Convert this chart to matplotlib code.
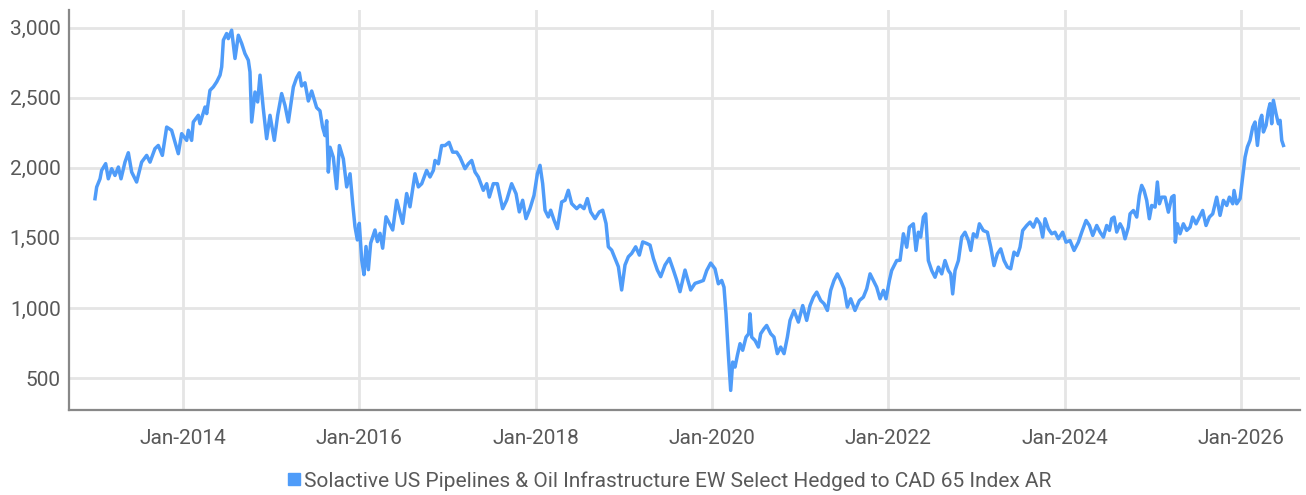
import matplotlib
matplotlib.use("Agg")
import matplotlib.pyplot as plt
from matplotlib.lines import Line2D

# dates as fractional years, index level
t = [2013.002, 2013.021, 2013.059, 2013.077, 2013.123, 2013.153, 2013.191, 2013.229, 2013.267, 2013.297,
     2013.342, 2013.380, 2013.418, 2013.474, 2013.531, 2013.588, 2013.626, 2013.682, 2013.720, 2013.766,
     2013.815, 2013.871, 2013.947, 2013.985, 2014.042, 2014.061, 2014.098, 2014.117, 2014.174, 2014.193,
     2014.250, 2014.269, 2014.306, 2014.344, 2014.382, 2014.420, 2014.439, 2014.458, 2014.495, 2014.514,
     2014.552, 2014.590, 2014.628, 2014.666, 2014.703, 2014.741, 2014.760, 2014.779, 2014.817, 2014.847,
     2014.874, 2014.911, 2014.949, 2014.987, 2015.036, 2015.074, 2015.119, 2015.157, 2015.195, 2015.252,
     2015.289, 2015.320, 2015.346, 2015.384, 2015.422, 2015.460, 2015.516, 2015.554, 2015.584, 2015.611,
     2015.630, 2015.649, 2015.668, 2015.705, 2015.743, 2015.774, 2015.819, 2015.857, 2015.895, 2015.925,
     2015.951, 2015.978, 2016.000, 2016.027, 2016.053, 2016.076, 2016.103, 2016.129, 2016.178, 2016.205,
     2016.235, 2016.265, 2016.303, 2016.341, 2016.379, 2016.424, 2016.462, 2016.492, 2016.537, 2016.575,
     2016.632, 2016.670, 2016.708, 2016.764, 2016.802, 2016.840, 2016.859, 2016.897, 2016.934, 2016.972,
     2017.018, 2017.059, 2017.105, 2017.142, 2017.199, 2017.237, 2017.275, 2017.313, 2017.350,
     2017.407, 2017.445, 2017.475, 2017.520, 2017.566, 2017.626, 2017.672, 2017.728, 2017.778, 2017.815,
     2017.853, 2017.891, 2017.936, 2017.982, 2018.020, 2018.050, 2018.080, 2018.107, 2018.144, 2018.171,
     2018.209, 2018.247, 2018.296, 2018.334, 2018.371, 2018.409, 2018.466, 2018.504, 2018.549, 2018.587,
     2018.625, 2018.674, 2018.723, 2018.761, 2018.799, 2018.825, 2018.863, 2018.901, 2018.939, 2018.976,
     2019.014, 2019.052, 2019.090, 2019.135, 2019.177, 2019.215, 2019.260, 2019.298, 2019.336, 2019.381,
     2019.419, 2019.468, 2019.517, 2019.563, 2019.600, 2019.638, 2019.695, 2019.721, 2019.759, 2019.808,
     2019.865, 2019.903, 2019.941, 2019.986, 2020.035, 2020.073, 2020.111, 2020.137, 2020.160, 2020.186,
     2020.213, 2020.236, 2020.262, 2020.289, 2020.319, 2020.349, 2020.387, 2020.417, 2020.432, 2020.451,
     2020.489, 2020.527, 2020.553, 2020.591, 2020.621, 2020.667, 2020.704, 2020.742, 2020.780, 2020.818,
     2020.856, 2020.886, 2020.931, 2020.981, 2021.030, 2021.075, 2021.113, 2021.151, 2021.189, 2021.234,
     2021.272, 2021.310, 2021.347, 2021.385, 2021.423, 2021.461, 2021.499, 2021.536, 2021.574, 2021.623,
     2021.673, 2021.718, 2021.756, 2021.794, 2021.831, 2021.869, 2021.907, 2021.945, 2021.975, 2022.013,
     2022.039, 2022.096, 2022.134, 2022.172, 2022.210, 2022.240, 2022.285, 2022.315, 2022.342, 2022.368,
     2022.399, 2022.425, 2022.455, 2022.493, 2022.531, 2022.569, 2022.607, 2022.644, 2022.682, 2022.709,
     2022.731, 2022.758, 2022.796, 2022.833, 2022.871, 2022.909, 2022.936, 2022.966, 2023.004, 2023.034,
     2023.079, 2023.125, 2023.163, 2023.200, 2023.238, 2023.276, 2023.314, 2023.352, 2023.389, 2023.427,
     2023.465, 2023.495, 2023.525, 2023.571, 2023.609, 2023.647, 2023.684, 2023.722, 2023.752, 2023.779,
     2023.817, 2023.855, 2023.892, 2023.930, 2023.979, 2024.017, 2024.062, 2024.108, 2024.157, 2024.195,
     2024.244, 2024.282, 2024.320, 2024.365, 2024.403, 2024.441, 2024.478, 2024.509, 2024.535, 2024.562,
     2024.592, 2024.630, 2024.660, 2024.686, 2024.724, 2024.743, 2024.781, 2024.819, 2024.849, 2024.875,
     2024.902, 2024.932, 2024.962, 2024.989, 2025.027, 2025.053, 2025.076, 2025.102, 2025.140, 2025.178,
     2025.216, 2025.242, 2025.257, 2025.280, 2025.310, 2025.348, 2025.386, 2025.424, 2025.454, 2025.492,
     2025.530, 2025.567, 2025.605, 2025.643, 2025.681, 2025.726, 2025.764, 2025.802, 2025.840, 2025.870,
     2025.908, 2025.923, 2025.953, 2025.991, 2026.021, 2026.048, 2026.074, 2026.104, 2026.135, 2026.161,
     2026.188, 2026.218, 2026.237, 2026.256, 2026.286, 2026.312, 2026.331, 2026.350, 2026.369, 2026.399,
     2026.426, 2026.445, 2026.464, 2026.483]

level = [1779, 1862, 1921, 1981, 2029, 1921, 1993, 1945, 2005, 1921,
         2040, 2107, 1969, 1898, 2040, 2088, 2040, 2136, 2159, 2088,
         2290, 2267, 2100, 2243, 2195, 2267, 2195, 2326, 2374, 2314,
         2433, 2386, 2552, 2576, 2612, 2660, 2719, 2910, 2957, 2921,
         2981, 2779, 2945, 2886, 2814, 2767, 2683, 2326, 2540, 2469,
         2660, 2421, 2207, 2374, 2195, 2374, 2529, 2445, 2326, 2576,
         2642, 2677, 2583, 2606, 2476, 2547, 2429, 2406, 2288, 2229,
         2335, 1969, 2146, 2075, 1851, 2158, 2063, 1863, 1957, 1745,
         1580, 1485, 1603, 1344, 1237, 1438, 1273, 1462, 1556, 1473,
         1532, 1426, 1650, 1603, 1556, 1768, 1674, 1603, 1816, 1721,
         1957, 1863, 1886, 1981, 1934, 1981, 2052, 2028, 2158, 2158,
         2181, 2111, 2111, 2075, 1993, 2028, 2052, 1969, 1934,
         1839, 1886, 1791, 1886, 1886, 1708, 1768, 1886, 1815, 1685,
         1768, 1637, 1708, 1803, 1957, 2017, 1886, 1697, 1649, 1697,
         1626, 1566, 1756, 1768, 1839, 1744, 1708, 1732, 1708, 1780,
         1685, 1637, 1685, 1697, 1602, 1436, 1412, 1353, 1294, 1128,
         1306, 1365, 1389, 1436, 1377, 1471, 1460, 1448, 1353, 1270,
         1223, 1306, 1353, 1270, 1199, 1116, 1270, 1211, 1128, 1175,
         1187, 1196, 1267, 1320, 1279, 1172, 1196, 1148, 958, 674,
         412, 614, 578, 662, 745, 698, 792, 816, 958, 792,
         768, 721, 816, 852, 875, 816, 792, 674, 721, 674,
         792, 911, 982, 899, 1017, 911, 1017, 1077, 1113, 1053,
         1030, 982, 1125, 1196, 1243, 1196, 1137, 1006, 1065, 982,
         1053, 1077, 1137, 1243, 1196, 1148, 1065, 1125, 1065, 1196,
         1267, 1338, 1340, 1529, 1433, 1576, 1600, 1410, 1540, 1505,
         1648, 1671, 1338, 1267, 1219, 1291, 1243, 1338, 1267, 1243,
         1100, 1267, 1338, 1505, 1540, 1481, 1410, 1529, 1505, 1600,
         1552, 1540, 1433, 1302, 1386, 1421, 1338, 1291, 1279, 1398,
         1374, 1433, 1552, 1588, 1612, 1576, 1636, 1600, 1505, 1636,
         1564, 1529, 1540, 1493, 1540, 1469, 1481, 1410, 1469, 1540,
         1624, 1588, 1517, 1588, 1541, 1505, 1588, 1553, 1636, 1648,
         1541, 1600, 1564, 1493, 1576, 1671, 1695, 1648, 1802, 1874,
         1838, 1767, 1636, 1731, 1719, 1898, 1743, 1790, 1790, 1683,
         1790, 1802, 1469, 1600, 1529, 1600, 1553, 1576, 1648, 1600,
         1648, 1695, 1588, 1648, 1671, 1790, 1660, 1767, 1731, 1790,
         1743, 1838, 1743, 1779, 1933, 2076, 2148, 2195, 2290, 2326,
         2159, 2338, 2374, 2255, 2302, 2409, 2457, 2314, 2481, 2386,
         2314, 2338, 2195, 2159]

year_ticks = [2014, 2016, 2018, 2020, 2022, 2024, 2026]
year_labels = ["Jan-%d" % y for y in year_ticks]
y_ticks = [500, 1000, 1500, 2000, 2500, 3000]
series_name = "Solactive US Pipelines & Oil Infrastructure EW Select Hedged to CAD 65 Index AR"

BLUE = "#4f9cf9"
TXT = "#595959"
plt.rcParams["font.family"] = ["Roboto", "DejaVu Sans"]

fig = plt.figure(figsize=(13.06, 4.95), dpi=100)
ax = fig.add_axes([69 / 1306, 1 - 410 / 495, (1300 - 69) / 1306, 400 / 495])
ax.plot(t, level, color=BLUE, lw=2.5, solid_joinstyle="round")

ax.set_xlim(2012.707, 2026.671)
ax.set_ylim(272, 3125)
ax.set_xticks(year_ticks)
ax.set_xticklabels(year_labels)
ax.set_yticks(y_ticks)
ax.set_yticklabels([f"{v:,}" for v in y_ticks])
ax.grid(True, color="#e5e5e5", lw=2)
ax.set_axisbelow(True)
for s in ("top", "right"):
    ax.spines[s].set_visible(False)
for s in ("left", "bottom"):
    ax.spines[s].set_color("#888888")
    ax.spines[s].set_linewidth(1.6)
ax.tick_params(length=0, labelsize=15, colors=TXT)
ax.tick_params(axis="x", pad=14)
ax.tick_params(axis="y", pad=6)

handle = Line2D([], [], ls="none", marker="s", ms=8, color=BLUE)
fig.legend([handle], [series_name], loc="center", bbox_to_anchor=(0.512, 1 - 481 / 495),
           frameon=False, fontsize=15, labelcolor=TXT, handletextpad=0.1, handlelength=0.8)

fig.savefig("out.png", dpi=100)
